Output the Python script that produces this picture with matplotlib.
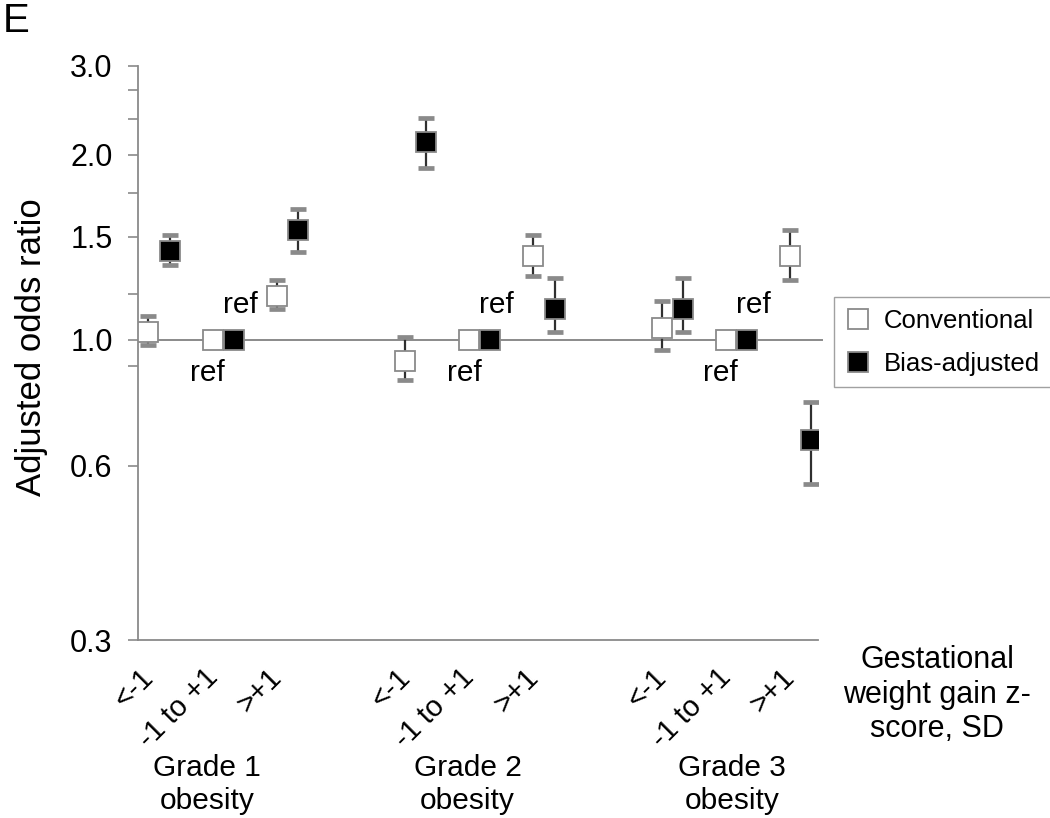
import numpy as np
import matplotlib
matplotlib.use("Agg")
import matplotlib.pyplot as plt
from matplotlib.lines import Line2D
import matplotlib.transforms as mtransforms

plt.rcParams["font.family"] = ["Liberation Sans", "DejaVu Sans"]

# ── Data ───────────────────────────────────────────────────────────────────
CATEGORIES = ["<-1", "-1 to +1", ">+1"]
GROUPS = ["Grade 1\nobesity", "Grade 2\nobesity", "Grade 3\nobesity"]
IS_REF = [False, True, False, False, True, False, False, True, False]

conv_or = [1.03, 1.00, 1.19, 0.92, 1.00, 1.40, 1.05, 1.00, 1.40]
conv_lo = [0.98, 1.00, 1.13, 0.85, 1.00, 1.29, 0.96, 1.00, 1.27]
conv_hi = [1.10, 1.00, 1.27, 1.01, 1.00, 1.52, 1.17, 1.00, 1.55]

bias_or = [1.43, 1.00, 1.55, 2.21, 1.00, 1.13, 1.13, 1.00, 0.67]
bias_lo = [1.35, 1.00, 1.42, 1.99, 1.00, 1.03, 1.03, 1.00, 0.56]
bias_hi = [1.52, 1.00, 1.69, 2.43, 1.00, 1.28, 1.28, 1.00, 0.78]

YTICK_LABELS = ["0.3", "0.6", "1.0", "1.5", "2.0", "3.0"]
YTICK_POS = [0.3, 0.603, 1.0, 1.51, 2.10, 3.0]
YTICK_MINOR = [0.90, 1.20, 1.80, 2.42, 2.72]

# ── Layout ────────────────────────────────────────────────────────────────
GRAY = "#8a8a8a"
DARK = "#303030"
OFF = 0.165
GROUP_LABEL_X = [0.75, 4.81, 8.93]

x = np.array([4 * g + c for g in range(3) for c in range(3)], dtype=float)
ref = np.array(IS_REF)

fig = plt.figure(figsize=(10.5, 8.18), dpi=100)
ax = fig.add_axes([138 / 1050, 1 - 640 / 818, 680 / 1050, 574.3 / 818])

# reference line at OR = 1
ax.plot([-0.327, 10.33], [1, 1], color=GRAY, lw=1.4, zorder=1, clip_on=False)


def draw_series(xs, val, lo, hi, face):
    val, lo, hi = map(np.asarray, (val, lo, hi))
    m = ~ref
    eb = ax.errorbar(xs[m], val[m], yerr=[val[m] - lo[m], hi[m] - val[m]],
                     fmt="none", ecolor=DARK, elinewidth=1.6,
                     capsize=5.5, capthick=3.4, zorder=2)
    for cap in eb[1]:
        cap.set_markeredgecolor(GRAY)
        cap.set_color(GRAY)
    ax.plot(xs, val, ls="none", marker="s", ms=14.5, mfc=face,
            mec=GRAY, mew=1.3, zorder=4)


draw_series(x - OFF, conv_or, conv_lo, conv_hi, "white")
draw_series(x + OFF, bias_or, bias_lo, bias_hi, "black")

# "ref" annotations
for g in range(3):
    c = 4 * g + 1
    ax.text(c - OFF - 0.08, 0.847, "ref", fontsize=21.5, ha="center",
            va="baseline", zorder=5)
    ax.text(c + OFF + 0.10, 1.112, "ref", fontsize=21.5, ha="center",
            va="baseline", zorder=5)

ax.set_yscale("log")
ax.set_ylim(0.3, 3.0)
ax.set_xlim(-0.327, 10.27)
ax.set_yticks(YTICK_POS)
ax.set_yticklabels(YTICK_LABELS)
ax.set_yticks(YTICK_MINOR, minor=True)
ax.yaxis.set_minor_formatter(matplotlib.ticker.NullFormatter())
ax.tick_params(axis="y", which="both", direction="out", length=7.2,
               width=1.2, color=GRAY, labelsize=22, pad=11)

ax.set_xticks(x)
ax.set_xticklabels(CATEGORIES * 3, rotation=45, ha="right",
                   va="center", rotation_mode="anchor")
ax.tick_params(axis="x", length=0, labelsize=21, pad=24)
for lab in ax.get_xticklabels():
    lab.set_transform(lab.get_transform() +
                      mtransforms.ScaledTranslation(-10 / 100, 0, fig.dpi_scale_trans))

for s in ["top", "right"]:
    ax.spines[s].set_visible(False)
for s in ["left", "bottom"]:
    ax.spines[s].set_color(GRAY)
    ax.spines[s].set_linewidth(1.3)

# group labels
for gx, lab in zip(GROUP_LABEL_X, GROUPS):
    ax.text(gx, -0.199, lab, transform=ax.get_xaxis_transform(),
            fontsize=21.5, ha="center", va="top", linespacing=1.2)

fig.text(937 / 1050, 1 - 645 / 818, "Gestational\nweight gain z-\nscore, SD",
         fontsize=22, ha="center", va="top", multialignment="center",
         linespacing=1.2)

fig.text(32 / 1050, 1 - 347 / 818, "Adjusted odds ratio", fontsize=25,
         rotation=90, ha="center", va="center")

fig.text(0.003, 1 - 2 / 818, "E", fontsize=29, ha="left", va="top")

handles = [
    Line2D([], [], ls="none", marker="s", ms=14.5, mfc="white", mec=GRAY, mew=1.3),
    Line2D([], [], ls="none", marker="s", ms=14.5, mfc="black", mec=GRAY, mew=1.3),
]
leg = fig.legend(handles, ["Conventional", "Bias-adjusted"], loc="upper left",
                 bbox_to_anchor=(834 / 1050, 1 - 297 / 818),
                 bbox_transform=fig.transFigure, fontsize=18.5, frameon=True,
                 fancybox=False, edgecolor=GRAY, handlelength=1.0,
                 handletextpad=0.5, labelspacing=0.75, borderpad=0.45,
                 borderaxespad=0)
leg.get_frame().set_linewidth(1.0)

fig.savefig("out.png", dpi=100)
